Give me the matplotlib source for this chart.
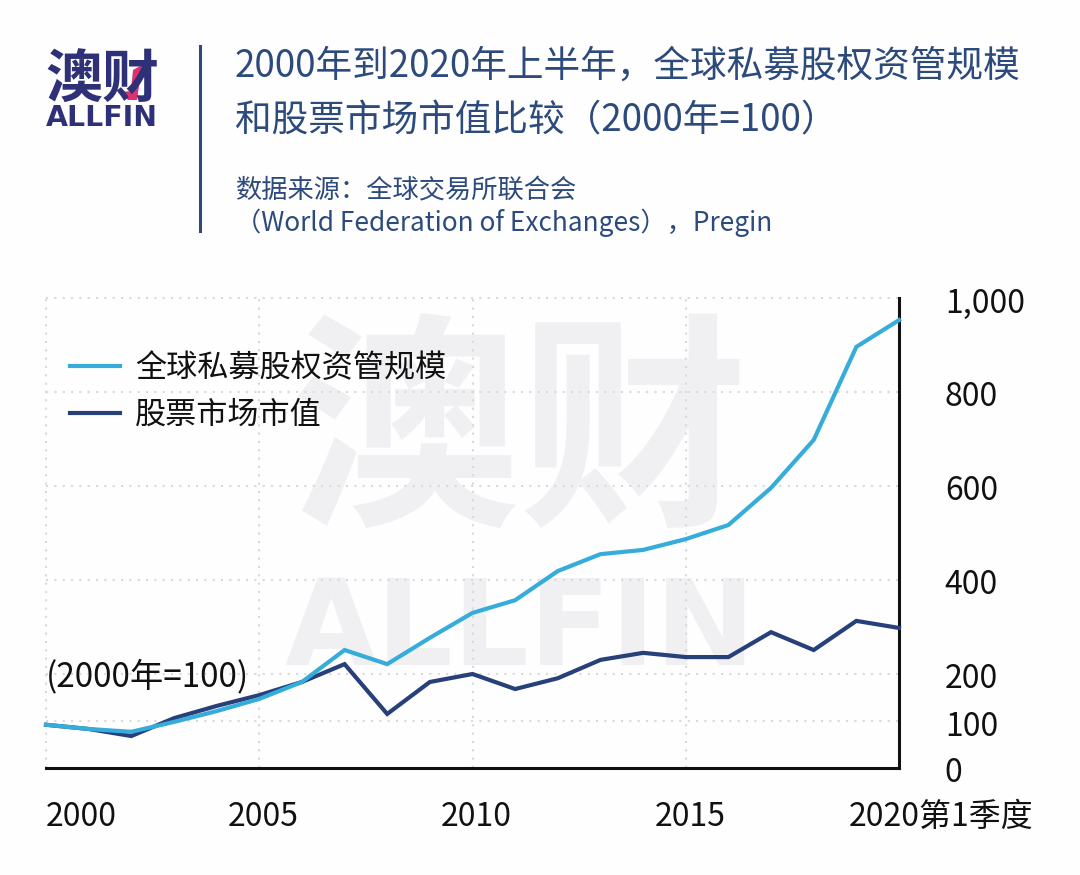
import matplotlib
matplotlib.use("Agg")
import matplotlib.pyplot as plt
from matplotlib.lines import Line2D
from matplotlib.patches import Polygon
from matplotlib.transforms import ScaledTranslation

plt.rcParams['font.family'] = ['Noto Sans CJK SC', 'DejaVu Sans']

# data
years = list(range(2000, 2021))
pe_aum = [92, 83, 77, 98, 121, 147, 183, 251, 221, 277, 330, 357, 419, 455, 464, 487, 517, 596, 698, 896, 953]
market_cap = [92, 83, 68, 106, 132, 155, 183, 221, 115, 183, 200, 168, 191, 230, 245, 236, 236, 289, 251, 313, 298]
y_ticks = [0, 100, 200, 400, 600, 800, 1000]
y_labels = ['0', '100', '200', '400', '600', '800', '1,000']
x_ticks = [2000, 2005, 2010, 2015, 2020]
x_labels = ['2000', '2005', '2010', '2015', '2020第1季度']

W, H = 1080, 875
NAVY = '#2c4a7c'
LOGO = '#2e3177'
LIGHT = '#35acd9'
DARK = '#27407a'
GRID = '#d9d9dc'
MARK = '#f0f0f3'


def fx(px):
    return px / W


def fy(px):
    return 1 - px / H


fig = plt.figure(figsize=(W / 100, H / 100), dpi=100, facecolor='#fefefe')

# header
fig.text(fx(45), fy(98), '澳财', fontsize=41, fontweight='black', color=LOGO, va='baseline')
fig.text(fx(46), fy(126), 'ALLFIN', fontsize=20.4, fontweight='bold', color=LOGO, va='baseline',
         family='DejaVu Sans')
fig.add_artist(Polygon([[fx(120), fy(92)], [fx(128), fy(100)], [fx(137), fy(100)], [fx(142), fy(65)],
                        [fx(133), fy(70)], [fx(131), fy(91)]],
                       closed=True, transform=fig.transFigure, facecolor='#e0306f', edgecolor='none'))
fig.add_artist(Line2D([fx(200), fx(200)], [fy(46), fy(231)], color=NAVY, lw=2.2, transform=fig.transFigure))
fig.text(fx(235), fy(77), '2000年到2020年上半年，全球私募股权资管规模', fontsize=26.4, color=NAVY)
fig.text(fx(235), fy(131), '和股票市场市值比较（2000年=100）', fontsize=26.4, color=NAVY)
fig.text(fx(235), fy(198), '数据来源：全球交易所联合会', fontsize=18.9, color=NAVY)
fig.text(fx(235), fy(231), '（World Federation of Exchanges），Pregin', fontsize=18.9, color=NAVY)

ax = fig.add_axes([fx(46), fy(768), fx(899 - 46), (768 - 298) / H])
ax.patch.set_alpha(0)

# watermark behind the lines
ax.text(fx(520), fy(508), '澳财', transform=fig.transFigure, fontsize=165, fontweight='black',
        color=MARK, ha='center', va='baseline', zorder=0, clip_on=False)
ax.text(fx(520), fy(665), 'ALLFIN', transform=fig.transFigure, fontsize=86, fontweight='bold',
        color=MARK, ha='center', va='baseline', zorder=0, clip_on=False, family='DejaVu Sans')

ax.plot(years, market_cap, color=DARK, lw=3, zorder=3, solid_joinstyle='miter', label='股票市场市值', clip_on=False)
ax.plot(years, pe_aum, color=LIGHT, lw=3, zorder=4, solid_joinstyle='miter', label='全球私募股权资管规模', clip_on=False)

ax.set_xlim(2000, 2020)
ax.set_ylim(0, 1000)
ax.spines['top'].set_visible(False)
ax.spines['left'].set_visible(False)
for side in ['bottom', 'right']:
    ax.spines[side].set_linewidth(2.2)
    ax.spines[side].set_color('#111111')

ax.yaxis.tick_right()
ax.set_yticks(y_ticks)
ax.set_yticklabels(y_labels, fontsize=23, color='#111111', ha='left')
ax.set_xticks(x_ticks)
ax.set_xticklabels(x_labels, fontsize=23, color='#111111')
ax.tick_params(axis='both', length=0)
ax.tick_params(axis='y', pad=33)
ax.tick_params(axis='x', pad=24)

# vertical and horizontal dotted grid, not at the closing edge
for v in x_ticks[:-1]:
    ax.axvline(v, color=GRID, lw=1.5, ls=(0, (1, 3)), zorder=1, clip_on=False)
for v in y_ticks[1:]:
    ax.axhline(v, color=GRID, lw=1.5, ls=(0, (1, 3)), zorder=1, clip_on=False)

# y labels sit a little under their gridlines, year labels a little off their ticks
for label in ax.get_yticklabels():
    label.set_transform(label.get_transform() + ScaledTranslation(0, -2 / 100, fig.dpi_scale_trans))
xt = ax.get_xticklabels()
xt[0].set_ha('left')
for label in xt[1:-1]:
    label.set_transform(label.get_transform() + ScaledTranslation(4 / 100, 0, fig.dpi_scale_trans))
xt[-1].set_transform(xt[-1].get_transform() + ScaledTranslation(42 / 100, 0, fig.dpi_scale_trans))

handles, labels = ax.get_legend_handles_labels()
ax.legend(handles[::-1], labels[::-1], loc='upper left', bbox_to_anchor=(fx(70), fy(353)),
          bbox_transform=fig.transFigure, frameon=False, fontsize=22.4, labelcolor='#111111',
          handlelength=1.6, handletextpad=0.5, labelspacing=0.5, borderpad=0, borderaxespad=0)

ax.text(fx(46), fy(686), '(2000年=100)', transform=fig.transFigure, fontsize=24, color='#111111',
        zorder=5)

fig.savefig('out.png', dpi=100, facecolor=fig.get_facecolor())
